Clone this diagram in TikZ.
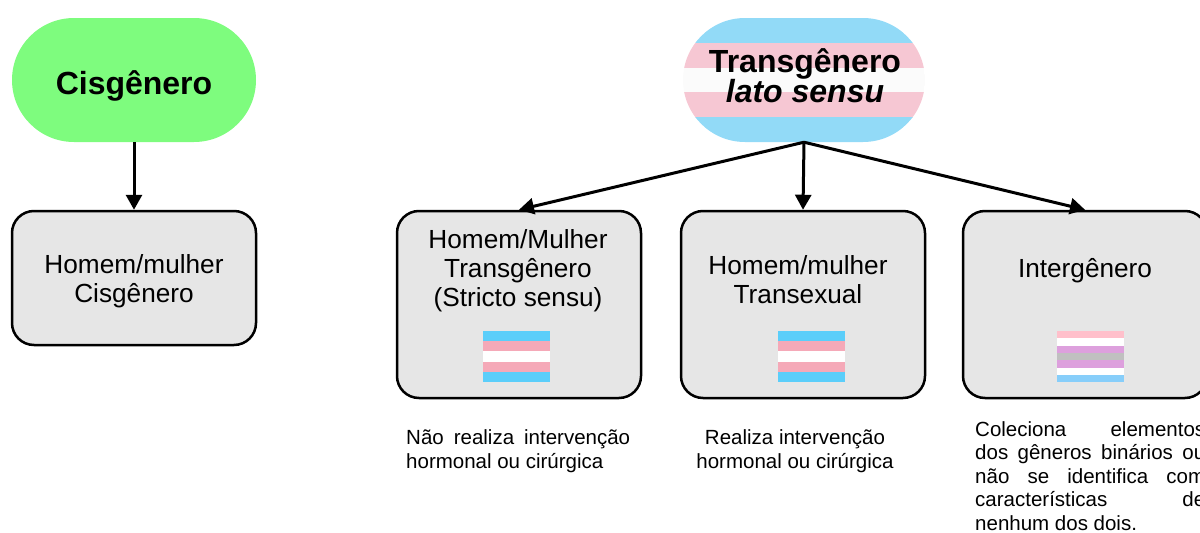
\documentclass[tikz,border=0pt]{standalone}
\usepackage{fontspec}
\setmainfont{Liberation Sans}
\usetikzlibrary{arrows.meta}
\definecolor{cisverde}{HTML}{7EFC7E}
\definecolor{caixacinza}{HTML}{E6E6E6}
\definecolor{azulclaro}{HTML}{92DAF7}
\definecolor{rosaclaro}{HTML}{F6C7D3}
\definecolor{brancoclaro}{HTML}{FBFBFB}
\definecolor{tazul}{HTML}{5BCEFA}
\definecolor{trosa}{HTML}{F5A9B8}
\definecolor{irosa}{HTML}{FFC0CB}
\definecolor{ililas}{HTML}{DDA0DD}
\definecolor{icinza}{HTML}{C0C0C0}
\definecolor{iazul}{HTML}{87CEFA}
\hyphenpenalty=10000
\tolerance=10000

\tikzset{
  estadio/.style={rounded corners=62pt, minimum width=244pt, minimum height=124pt, inner sep=0pt},
  caixa/.style={draw, line width=2.5pt, rounded corners=22pt, fill=caixacinza, minimum width=244pt, inner sep=0pt},
  rotulo/.style={align=center, inner sep=0pt, font=\fontsize{26.2}{29.5}\selectfont},
  titulo/.style={align=center, inner sep=0pt, font=\bfseries\fontsize{32}{30}\selectfont},
  nota/.style={inner sep=0pt, font=\fontsize{20.5}{24.5}\selectfont},
  seta/.style={line width=3pt, -{Triangle[length=15pt,width=16pt]}}
}

\begin{document}
\begin{tikzpicture}[x=1pt,y=-1pt]
    \useasboundingbox (0,0) rectangle (1200,533);
    % cisgenero
    \node[estadio, fill=cisverde, font=\bfseries\fontsize{32}{36}\selectfont, text height=28pt, text depth=0pt] (cis) at (134,80) {Cisgênero};
    \node[caixa, minimum height=134pt] (cish) at (134,278) {};
    \node[rotulo, anchor=north] (cisht) at (134,254.3) {Homem/mulher\\Cisgênero};
    \draw[seta] (cis.south) -- (cish.north);
    % transgenero lato sensu
    \begin{scope}
        \clip[rounded corners=62pt] (683,18) rectangle (925,142);
        \foreach \cor [count=\i from 0] in {azulclaro,rosaclaro,brancoclaro,rosaclaro,azulclaro}
            \fill[\cor] (683,18+24.8*\i) rectangle (925,18+24.8*\i+25.3);
    \end{scope}
    \node[estadio, minimum width=242pt] (trans) at (804,80) {};
    \node[titulo, anchor=north] (transt) at (805,48) {Transgênero\\\textit{lato sensu}};
    \node[caixa, minimum height=187pt] (tstrito) at (519,304.5) {};
    \node[rotulo, anchor=north, font=\fontsize{26.2}{29}\selectfont] (tstritot) at (518,229.3) {Homem/Mulher\\Transgênero\\(Stricto sensu)};
    \node[caixa, minimum height=187pt] (tsexual) at (803,304.5) {};
    \node[rotulo, anchor=north, font=\fontsize{26.2}{29}\selectfont] (tsexualt) at (798,255.3) {Homem/mulher\\Transexual};
    \node[caixa, minimum height=187pt] (inter) at (1085,304.5) {};
    \node[rotulo, anchor=base] (intert) at (1085,277) {Intergênero};
    \draw[seta] (trans.south) -- (tstrito.north);
    \draw[seta] (trans.south) -- (tsexual.north);
    \draw[seta] (trans.south) -- (inter.north);
    % bandeiras
    \foreach \cor [count=\i from 0] in {tazul,trosa,white,trosa,tazul} {
        \fill[\cor] (483,331+10.2*\i) rectangle +(67,10.2);
        \fill[\cor] (778,331+10.2*\i) rectangle +(67,10.2);
    }
    \foreach \cor [count=\i from 0] in {irosa,white,ililas,icinza,ililas,white,iazul}
        \fill[\cor] (1057,331+7.3*\i) rectangle +(67,7.3);
    % notas
    \node[nota, text width=224pt, align=justify, anchor=north west] (nota1) at (406,429) {Não realiza intervenção hormonal ou cirúrgica};
    \node[nota, align=center, anchor=north] (nota2) at (795,429) {Realiza intervenção\\hormonal ou cirúrgica};
    \node[nota, text width=230pt, align=justify, anchor=north west, font=\fontsize{20.5}{23.5}\selectfont] (nota3) at (975,421) {Coleciona elementos\linebreak dos gêneros binários ou\linebreak não se identifica com\linebreak características de\linebreak nenhum dos dois.};
\end{tikzpicture}
\end{document}
